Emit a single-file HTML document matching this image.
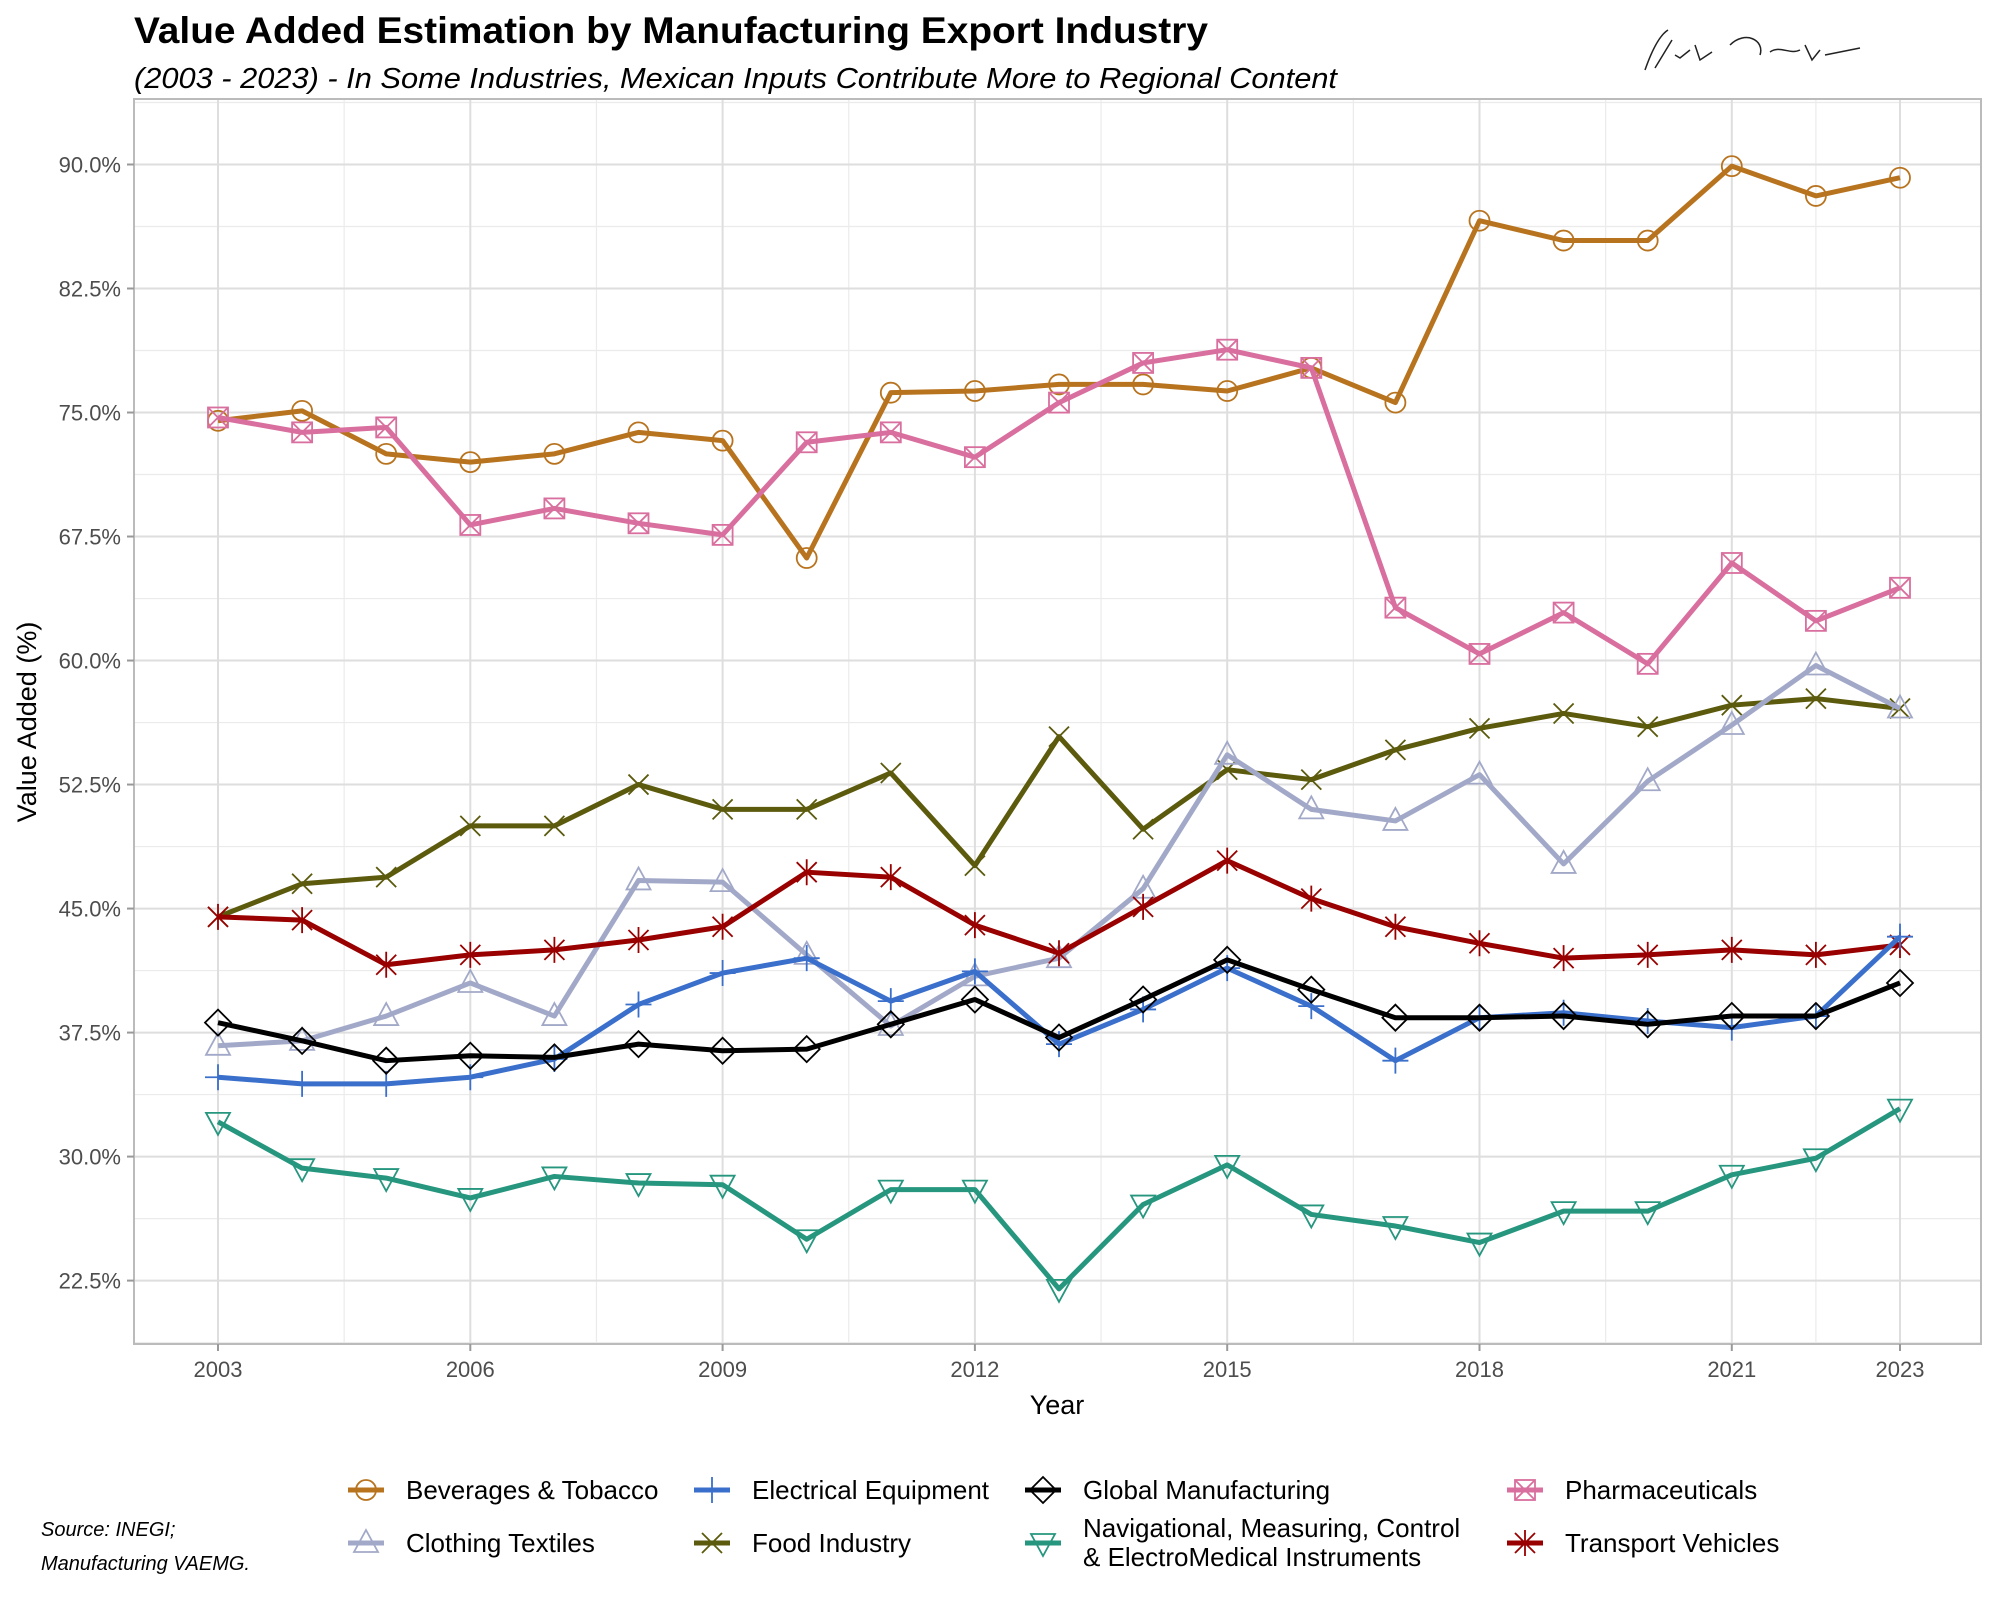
<!DOCTYPE html>
<html><head><meta charset="utf-8"><style>
html,body{margin:0;padding:0;background:#fff;}
svg{display:block;font-family:"Liberation Sans",sans-serif;}
</style></head><body>
<svg id="chart" width="2000" height="1600" viewBox="0 0 2000 1600">
<rect width="2000" height="1600" fill="#fff"/>
<text x="134" y="43" font-size="37" font-weight="bold" fill="#000" textLength="1074" lengthAdjust="spacingAndGlyphs">Value Added Estimation by Manufacturing Export Industry</text>
<text x="134" y="88" font-size="29" font-style="italic" fill="#000" textLength="1203" lengthAdjust="spacingAndGlyphs">(2003 - 2023) -  In Some Industries, Mexican Inputs Contribute More to Regional Content</text>
<path d="M1645 70 C1652 50 1660 35 1668 30 M1655 68 L1672 40 M1675 55 L1680 58 L1690 50 M1695 45 L1700 60 L1712 52 M1730 45 C1745 30 1765 40 1760 55 M1770 52 C1780 45 1790 55 1800 50 M1805 45 L1812 60 L1820 50 M1825 55 L1860 48" stroke="#222" stroke-width="1.5" fill="none"/>
<g id="grid"></g>
<rect x="134" y="99" width="1847" height="1245" fill="none" stroke="#bbb" stroke-width="2"/>
<g id="series"></g>
<g id="axes"></g>
<text x="1057" y="1414" font-size="27" text-anchor="middle" fill="#000">Year</text>
<text transform="translate(36,722) rotate(-90)" font-size="27" text-anchor="middle" fill="#000">Value Added (%)</text>
<g id="legend"></g>
<text x="41" y="1536" font-size="20" font-style="italic" fill="#000">Source: INEGI;</text>
<text x="41" y="1570" font-size="20" font-style="italic" fill="#000">Manufacturing VAEMG.</text>
</svg>
<script>
const years = [2003,2004,2005,2006,2007,2008,2009,2010,2011,2012,2013,2014,2015,2016,2017,2018,2019,2020,2021,2022,2023];
const yTicks = [22.5,30,37.5,45,52.5,60,67.5,75,82.5,90];
const yTickLabels = ["22.5%","30.0%","37.5%","45.0%","52.5%","60.0%","67.5%","75.0%","82.5%","90.0%"];
const xTicks = [2003,2006,2009,2012,2015,2018,2021,2023];
const seriesNames = ["Beverages & Tobacco","Pharmaceuticals","Food Industry","Clothing Textiles","Transport Vehicles","Electrical Equipment","Global Manufacturing","Navigational, Measuring, Control & ElectroMedical Instruments"];
const beverages = [74.5,75.1,72.5,72.0,72.5,73.8,73.3,66.2,76.2,76.3,76.7,76.7,76.3,77.7,75.6,86.6,85.4,85.4,89.9,88.1,89.2];
const pharma = [74.7,73.8,74.1,68.2,69.2,68.3,67.6,73.2,73.8,72.3,75.6,78.0,78.8,77.7,63.2,60.4,62.9,59.8,65.9,62.4,64.4];
const food = [44.5,46.5,46.9,50.0,50.0,52.5,51.0,51.0,53.2,47.6,55.4,49.8,53.4,52.8,54.6,55.9,56.8,56.0,57.3,57.7,57.1];
const clothing = [36.7,37.0,38.5,40.5,38.5,46.7,46.6,42.2,37.9,40.9,42.0,46.2,54.3,51.0,50.3,53.1,47.7,52.7,56.1,59.7,57.1];
const transport = [44.5,44.3,41.6,42.2,42.5,43.1,43.9,47.2,46.9,44.0,42.3,45.1,47.9,45.6,43.9,42.9,42.0,42.2,42.5,42.2,42.8];
const electrical = [34.8,34.4,34.4,34.8,35.9,39.2,41.1,42.0,39.4,41.2,36.8,38.9,41.4,39.1,35.8,38.4,38.7,38.2,37.8,38.5,43.3];
const globalMfg = [38.1,37.0,35.8,36.1,36.0,36.8,36.4,36.5,38.0,39.5,37.2,39.5,41.9,40.1,38.4,38.4,38.5,38.0,38.5,38.5,40.5];
const navigational = [32.1,29.3,28.7,27.5,28.8,28.4,28.3,25.0,28.0,28.0,22.0,27.1,29.5,26.5,25.8,24.8,26.7,26.7,28.9,29.9,32.9];

const NS="http://www.w3.org/2000/svg";
const X0=134,X1=1981,Y0=99,Y1=1344;
function xs(yr){return 218+(yr-2003)*(1900-218)/20;}
function ys(v){return 164.5+(90-v)*(1280.6-164.5)/67.5;}
function mk(tag,attrs,parent){const e=document.createElementNS(NS,tag);for(const k in attrs)e.setAttribute(k,attrs[k]);parent.appendChild(e);return e;}

const grid=document.getElementById('grid');
for(let i=0;i<yTicks.length+1;i++){const v=18.75+i*7.5;const y=ys(v);if(y>Y0&&y<Y1){const l=mk('line',{x1:X0,x2:X1,y1:y,y2:y,stroke:'#ebebeb','stroke-width':1.2},grid);}}
for(let i=0;i<xTicks.length-1;i++){const m=(xTicks[i]+xTicks[i+1])/2;const x=xs(m);const l=mk('line',{x1:x,x2:x,y1:Y0,y2:Y1,stroke:'#ebebeb','stroke-width':1.2},grid);}
const axes=document.getElementById('axes');
yTicks.forEach((v,i)=>{const y=ys(v);
 const l=mk('line',{x1:X0,x2:X1,y1:y,y2:y,stroke:'#dedede','stroke-width':2},grid);
 mk('line',{x1:X0-7,x2:X0,y1:y,y2:y,stroke:'#999','stroke-width':2},axes);
 const t=mk('text',{x:121,y:y+8,'font-size':22,'text-anchor':'end',fill:'#4d4d4d'},axes);t.textContent=yTickLabels[i];
 });
xTicks.forEach(yr=>{const x=xs(yr);
 const l=mk('line',{x1:x,x2:x,y1:Y0,y2:Y1,stroke:'#dedede','stroke-width':2},grid);
 mk('line',{x1:x,x2:x,y1:Y1,y2:Y1+7,stroke:'#999','stroke-width':2},axes);
 const t=mk('text',{x:x,y:1377,'font-size':22,'text-anchor':'middle',fill:'#4d4d4d'},axes);t.textContent=yr;
 });

const R=10;
function marker(shape,x,y,color,parent){
 const g=mk('g',{fill:'none',stroke:color,'stroke-width':1.8},parent);
 if(shape==='circle')mk('circle',{cx:x,cy:y,r:R},g);
 else if(shape==='boxx'){mk('rect',{x:x-R,y:y-R,width:2*R,height:2*R},g);mk('path',{d:`M${x-R} ${y-R}L${x+R} ${y+R}M${x+R} ${y-R}L${x-R} ${y+R}`},g);}
 else if(shape==='x')mk('path',{d:`M${x-R} ${y-R}L${x+R} ${y+R}M${x+R} ${y-R}L${x-R} ${y+R}`},g);
 else if(shape==='tri')mk('path',{d:`M${x} ${y-13}L${x+12} ${y+9}L${x-12} ${y+9}Z`},g);
 else if(shape==='star')mk('path',{d:`M${x-R} ${y-R}L${x+R} ${y+R}M${x+R} ${y-R}L${x-R} ${y+R}M${x} ${y-13}L${x} ${y+13}`},g);
 else if(shape==='plus')mk('path',{d:`M${x-13} ${y}L${x+13} ${y}M${x} ${y-13}L${x} ${y+13}`},g);
 else if(shape==='diamond')mk('path',{d:`M${x} ${y-13}L${x+13} ${y}L${x} ${y+13}L${x-13} ${y}Z`},g);
 else if(shape==='tridown')mk('path',{d:`M${x} ${y+13}L${x+12} ${y-9}L${x-12} ${y-9}Z`},g);
 return g;
}
const defs=[
 {d:beverages,c:'#B8731F',s:'circle',n:'beverages-tobacco'},
 {d:pharma,c:'#D86F9E',s:'boxx',n:'pharmaceuticals'},
 {d:food,c:'#5C5A0C',s:'x',n:'food-industry'},
 {d:clothing,c:'#A2A9C8',s:'tri',n:'clothing-textiles'},
 {d:transport,c:'#990000',s:'star',n:'transport-vehicles'},
 {d:electrical,c:'#3A6FCB',s:'plus',n:'electrical-equipment'},
 {d:globalMfg,c:'#000000',s:'diamond',n:'global-manufacturing'},
 {d:navigational,c:'#26967F',s:'tridown',n:'navigational-instruments'}];
const sg=document.getElementById('series');
defs.forEach(sd=>{
 const g=mk('g',{},sg);
 
 
 const pts=sd.d.map((v,i)=>xs(years[i])+','+ys(v)).join(' ');
 const pl=mk('polyline',{points:pts,fill:'none',stroke:sd.c,'stroke-width':5,'stroke-linejoin':'round'},g);
 
 
 sd.d.forEach((v,i)=>{const m=marker(sd.s,xs(years[i]),ys(v),sd.c,g);
  
  });
});
const lg=document.getElementById('legend');
const legendItems=[
 {i:0,x:366,y:1490,t:['Beverages & Tobacco']},
 {i:5,x:712,y:1490,t:['Electrical Equipment']},
 {i:6,x:1043,y:1490,t:['Global Manufacturing']},
 {i:1,x:1525,y:1490,t:['Pharmaceuticals']},
 {i:3,x:366,y:1543,t:['Clothing Textiles']},
 {i:2,x:712,y:1543,t:['Food Industry']},
 {i:7,x:1043,y:1543,t:['Navigational, Measuring, Control',' & ElectroMedical Instruments']},
 {i:4,x:1525,y:1543,t:['Transport Vehicles']}];
legendItems.forEach(li=>{const sd=defs[li.i];
 const g=mk('g',{},lg);
 
 
 mk('line',{x1:li.x-18,x2:li.x+18,y1:li.y,y2:li.y,stroke:sd.c,'stroke-width':5},g);
 marker(sd.s,li.x,li.y,sd.c,g);
 if(li.t.length===1){const t=mk('text',{x:li.x+40,y:li.y+9,'font-size':26,fill:'#000'},g);t.textContent=li.t[0];}
 else{li.t.forEach((s,k)=>{const t=mk('text',{x:li.x+40,y:li.y-6+k*29,'font-size':26,fill:'#000'},g);t.textContent=s;});}
});
</script>
</body></html>
